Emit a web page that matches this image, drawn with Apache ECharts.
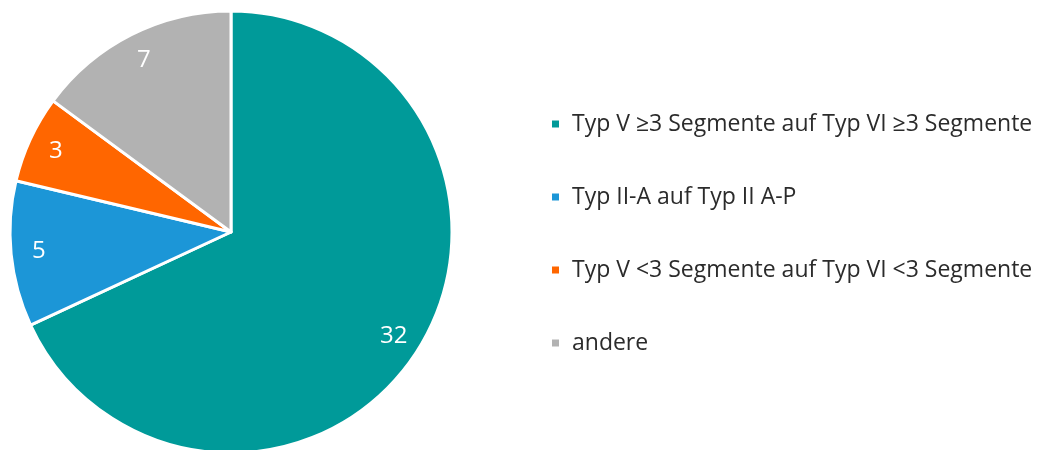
<!DOCTYPE html>
<html>
<head>
<meta charset="UTF-8">
<title></title>
<script src="https://cdn.jsdelivr.net/npm/echarts@6/dist/echarts.min.js"></script>
<style>
  html, body { margin: 0; padding: 0; background: #fff; }
  #main { width: 1046px; height: 450px; }
</style>
</head>
<body>
<div id="main"></div>
<script>
var categories = [
  'Typ V \u22653 Segmente auf Typ VI \u22653 Segmente',
  'Typ II-A auf Typ II A-P',
  'Typ V <3 Segmente auf Typ VI <3 Segmente',
  'andere'
];
var values = [32, 5, 3, 7];
var colors = ['#009a99', '#1c96d7', '#ff6600', '#b2b2b2'];

var data = [];
for (var i = 0; i < categories.length; i++) {
  data.push({ name: categories[i], value: values[i] });
}

var chart = echarts.init(document.getElementById('main'));
chart.setOption({
  animation: false,
  color: colors,
  legend: {
    orient: 'vertical',
    left: 545,
    top: 107,
    itemWidth: 9,
    itemHeight: 9,
    itemGap: 49,
    icon: 'rect',
    textStyle: {
      fontFamily: 'Open Sans',
      fontSize: 23,
      lineHeight: 24,
      color: '#2b2b2b',
      padding: [0, 0, 0, 7]
    }
  },
  series: [
    {
      // the slices
      type: 'pie',
      center: [231, 232],
      radius: [0, 221],
      startAngle: 90,
      clockwise: true,
      silent: true,
      itemStyle: { borderColor: '#fff', borderWidth: 3 },
      label: { show: false },
      labelLine: { show: false },
      data: data
    },
    {
      // invisible ring that carries the value labels near the rim
      type: 'pie',
      center: [231, 232],
      radius: [160, 220],
      startAngle: 90,
      clockwise: true,
      silent: true,
      itemStyle: { color: 'rgba(0,0,0,0)', borderWidth: 0 },
      label: {
        show: true,
        position: 'inside',
        formatter: '{c}',
        fontFamily: 'Open Sans',
        fontSize: 24,
        color: '#fff'
      },
      labelLine: { show: false },
      legendHoverLink: false,
      data: data
    }
  ]
});
</script>
</body>
</html>
